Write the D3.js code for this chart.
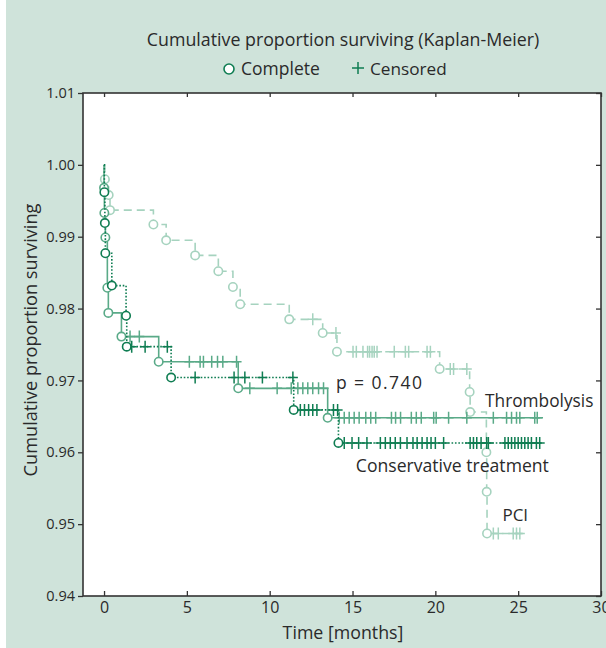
<!DOCTYPE html>
<html><head><meta charset="utf-8">
<script src="https://cdn.jsdelivr.net/npm/d3@7"></script>
<style>
body{margin:0;background:#fff}
svg{display:block}
text{font-family:"Open Sans",sans-serif;fill:#2a2a2a}
</style>
</head><body>
<svg id="c" width="606" height="648"></svg>
<script>
// ---------- data ----------
const seriesNames = ["Thrombolysis", "Conservative treatment", "PCI"];
const xTicks = [0, 5, 10, 15, 20, 25, 30];
const yTicks = [0.94, 0.95, 0.96, 0.97, 0.98, 0.99, 1.00, 1.01];
const yTickLabels = ["0.94", "0.95", "0.96", "0.97", "0.98", "0.99", "1.00", "1.01"];

const thrombEventTimes = [0.0, 0.02, 0.08, 0.2, 0.26, 1.05, 3.3, 8.1, 13.5];
const thrombSurvival   = [0.9968, 0.9933, 0.9899, 0.9829, 0.9794, 0.9761, 0.9726, 0.9689, 0.9648];
const thrombCensored   = [1.57, 2.13, 5.15, 5.8, 6.0, 6.5, 6.85, 7.17, 8.0, 8.8, 10.45, 11.3, 11.7, 12.0, 12.3, 12.6, 12.95, 13.25,
                          14.2, 14.5, 14.8, 15.1, 15.4, 15.8, 16.1, 16.4, 17.35, 17.6, 17.9, 18.55, 18.85, 19.15, 19.9, 20.05,
                          20.8, 21.9, 23.5, 24.3, 24.6, 24.9, 25.1, 26.0, 26.15];
const thrombEnd = 26.5;

const consEventTimes = [0.02, 0.05, 0.08, 0.47, 1.33, 1.37, 4.05, 11.45, 14.15];
const consSurvival   = [0.9962, 0.9919, 0.9877, 0.9832, 0.9790, 0.9747, 0.9704, 0.9659, 0.9613];
const consCensored   = [1.67, 2.48, 3.82, 5.5, 7.85, 8.5, 9.56, 11.4, 11.85, 12.1, 12.35, 12.6, 12.85, 13.85, 14.1,
                        14.5, 14.97, 15.37, 15.87, 16.68, 16.98, 17.28, 17.58, 17.89, 18.29, 18.65, 18.9, 19.2, 19.5, 19.74,
                        20.0, 20.5, 22.1, 22.3, 22.5, 22.76, 23.1, 23.2, 24.2, 24.4, 24.6, 24.8, 25.0, 25.2, 25.4, 25.6,
                        25.8, 26.1, 26.3];
const consEnd = 26.5;

const pciEventTimes = [0.05, 0.28, 0.36, 2.98, 3.75, 5.5, 6.9, 7.78, 8.22, 11.18, 13.2, 14.06, 20.26, 22.07, 22.1, 23.08, 23.1, 23.12];
const pciSurvival   = [0.998, 0.9958, 0.9937, 0.9917, 0.9895, 0.9874, 0.9852, 0.9830, 0.9806, 0.9785, 0.9766, 0.9740,
                       0.9716, 0.9684, 0.9656, 0.9600, 0.9545, 0.9487];
const pciCensored   = [12.6, 14.0, 15.03, 15.23, 15.63, 15.91, 16.03, 16.18, 16.31, 16.48, 17.52, 18.19, 18.39, 19.5, 19.7,
                       20.9, 21.1, 21.9, 23.5, 23.8, 24.7, 24.9, 25.1];
const pciEnd = 25.3;

const pValueText = "p = 0.740";

// ---------- layout ----------
const W = 606, H = 648;
const M = {l: 83, r: 601, t: 93, b: 596};
const FF = '"Open Sans",sans-serif';
const svg = d3.select("#c");
svg.append("rect").attr("x", 6).attr("y", 0).attr("width", W - 6).attr("height", H).attr("fill", "#cfe3da");
svg.append("rect").attr("x", M.l).attr("y", M.t).attr("width", M.r - M.l).attr("height", M.b - M.t).attr("fill", "#fff");

const x = d3.scaleLinear().domain([-1.27, 30]).range([M.l, M.r]);
const y = d3.scaleLinear().domain([0.94, 1.01]).range([M.b, M.t]);

const series = [
  {name: seriesNames[2], times: pciEventTimes, surv: pciSurvival, cens: pciCensored, end: pciEnd,
   color: "#a6d3bf", mark: "#a6d3bf", dash: "8,5", width: 1.6},
  {name: seriesNames[0], times: thrombEventTimes, surv: thrombSurvival, cens: thrombCensored, end: thrombEnd,
   color: "#5aaa88", mark: "#5aaa88", dash: null, width: 1.6},
  {name: seriesNames[1], times: consEventTimes, surv: consSurvival, cens: consCensored, end: consEnd,
   color: "#0f7d52", mark: "#0f7d52", dash: "1.6,1.8", width: 1.6}
];

function survAt(s, t) {
  let v = 1;
  s.times.forEach((tt, i) => { if (tt <= t) v = s.surv[i]; });
  return v;
}

const line = d3.line().x(d => x(d[0])).y(d => y(d[1]));
const plot = svg.append("g");

series.forEach(s => {
  const pts = [[0, 1]];
  let cur = 1;
  s.times.forEach((t, i) => { pts.push([t, cur]); cur = s.surv[i]; pts.push([t, cur]); });
  pts.push([s.end, cur]);
  const g = plot.append("g");
  g.append("path").attr("d", line(pts)).attr("fill", "none").attr("stroke", s.color)
    .attr("stroke-width", s.width).attr("stroke-dasharray", s.dash);
  g.selectAll("path.cens").data(s.cens).join("path").attr("class", "cens")
    .attr("d", t => {
      const cx = x(t), cy = y(survAt(s, t));
      return `M${cx},${cy - 6}V${cy + 6}M${cx - 5},${cy}H${cx + 5}`;
    })
    .attr("stroke", s.mark).attr("stroke-width", 1.5).attr("fill", "none");
  g.selectAll("circle").data(s.times.map((t, i) => [t, s.surv[i]])).join("circle")
    .attr("cx", d => x(d[0])).attr("cy", d => y(d[1])).attr("r", 4.2)
    .attr("fill", "#fff").attr("stroke", s.mark).attr("stroke-width", 1.6);
});

// ---------- axes ----------
const axisColor = "#333";
const gB = svg.append("g").attr("transform", `translate(0,${M.b})`)
  .call(d3.axisBottom(x).tickValues(xTicks).tickSize(-5).tickPadding(6).tickFormat(d3.format("d")));
const gT = svg.append("g").attr("transform", `translate(0,${M.t})`)
  .call(d3.axisTop(x).tickValues(xTicks).tickSize(-4).tickFormat(""));
const gL = svg.append("g").attr("transform", `translate(${M.l},0)`)
  .call(d3.axisLeft(y).tickValues(yTicks).tickSize(5).tickPadding(3).tickFormat((d, i) => yTickLabels[i]));
const gR = svg.append("g").attr("transform", `translate(${M.r},0)`)
  .call(d3.axisRight(y).tickValues(yTicks).tickSize(-5).tickFormat(""));
[gB, gT, gL, gR].forEach(g => {
  g.select(".domain").remove();
  g.selectAll("line").attr("stroke", axisColor).attr("stroke-width", 1.3);
  g.selectAll("text").attr("font-family", FF).attr("fill", "#2a2a2a");
});
gB.selectAll("text").attr("font-size", 16);
gL.selectAll("text").attr("font-size", 14.5);
svg.append("rect").attr("x", M.l).attr("y", M.t).attr("width", M.r - M.l).attr("height", M.b - M.t)
  .attr("fill", "none").attr("stroke", axisColor).attr("stroke-width", 1.6);

// ---------- texts ----------
svg.append("text").attr("x", 343).attr("y", 46).attr("text-anchor", "middle").attr("font-size", 17.8)
  .text("Cumulative proportion surviving (Kaplan-Meier)");
svg.append("circle").attr("cx", 229).attr("cy", 69).attr("r", 5).attr("fill", "#fff")
  .attr("stroke", "#0f7d52").attr("stroke-width", 1.6);
svg.append("text").attr("x", 241).attr("y", 75).attr("font-size", 17.5).text("Complete");
svg.append("path").attr("d", "M358,62V74M352,68H364").attr("stroke", "#0f7d52").attr("stroke-width", 1.5);
svg.append("text").attr("x", 370).attr("y", 75).attr("font-size", 17.2).text("Censored");

svg.append("text").attr("x", 343).attr("y", 639).attr("text-anchor", "middle")
  .attr("font-size", 17.8).text("Time [months]");
svg.append("text").attr("transform", `translate(37,340) rotate(-90)`).attr("text-anchor", "middle")
  .attr("font-size", 18.2).text("Cumulative proportion surviving");

svg.append("text").attr("x", x(14.0)).attr("y", y(0.9688)).attr("font-size", 17.5)
  .attr("textLength", 86).attr("lengthAdjust", "spacing").text(pValueText);
svg.append("text").attr("x", x(23.0)).attr("y", y(0.9663)).attr("font-size", 17.3).text(seriesNames[0]);
svg.append("text").attr("x", x(15.2)).attr("y", y(0.95726)).attr("font-size", 17.6).text(seriesNames[1]);
svg.append("text").attr("x", x(24.05)).attr("y", y(0.95044)).attr("font-size", 17).text(seriesNames[2]);
</script>
</body></html>
